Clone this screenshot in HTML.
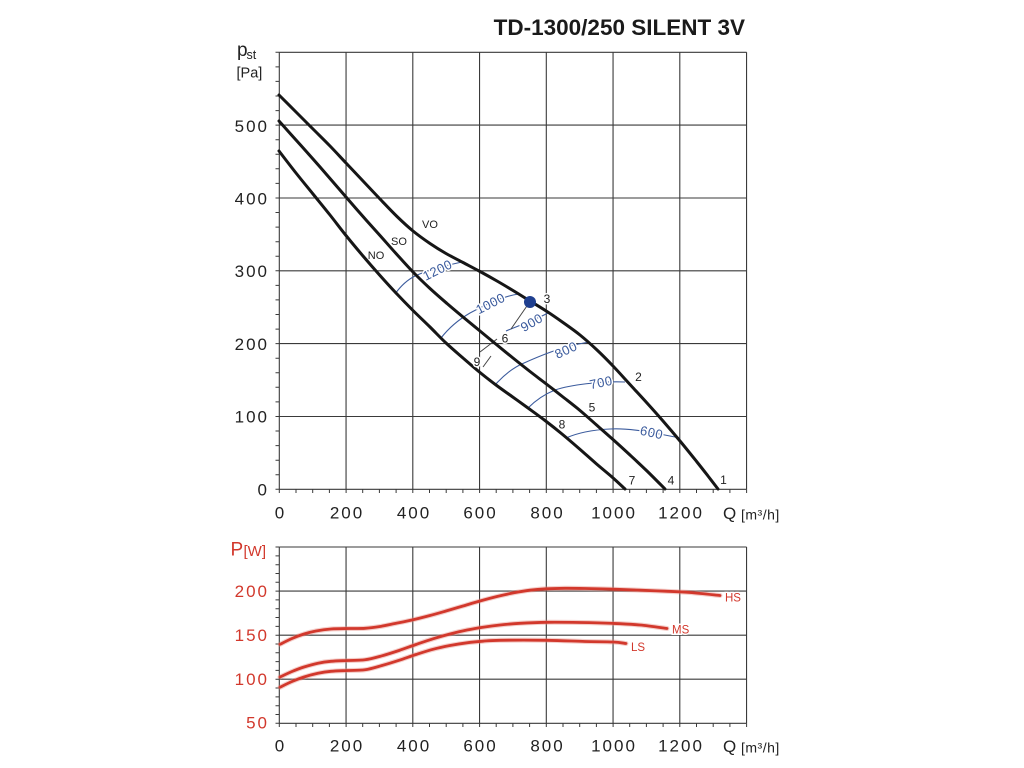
<!DOCTYPE html>
<html><head><meta charset="utf-8"><style>
html,body{margin:0;padding:0;background:#fff;}
svg{display:block;}
text{font-family:"Liberation Sans",Arial,sans-serif;}
.num{font-size:17px;fill:#222;letter-spacing:2px;}
.rnum{font-size:17px;fill:#d2382c;letter-spacing:2px;}
.blab{font-size:13px;fill:#3b5b9d;letter-spacing:0.5px;stroke:#fff;stroke-width:3px;paint-order:stroke;stroke-linejoin:round;}
.klab{font-size:12px;fill:#222;stroke:#fff;stroke-width:3px;paint-order:stroke;}
.clab{font-size:11px;fill:#222;}
.rlab{font-size:11.5px;fill:#d2382c;stroke:#fff;stroke-width:3px;paint-order:stroke;}
</style></head><body>
<svg id="chart" width="1024" height="768" viewBox="0 0 1024 768" xmlns="http://www.w3.org/2000/svg">
<rect width="1024" height="768" fill="#fff"/>
<text x="745" y="35" text-anchor="end" style="font-size:22.5px;font-weight:bold;fill:#1a1a1a">TD-1300/250 SILENT 3V</text>

<!-- TOP CHART GRID -->
<g stroke="#3a3a3a" stroke-width="1.1" fill="none">
<path d="M279.3 52.3H746.6M279.3 125.1H746.6M279.3 198H746.6M279.3 270.8H746.6M279.3 343.6H746.6M279.3 416.5H746.6M279.3 489.3H746.6"/>
<path d="M279.3 52.3V489.3M346.05 52.3V489.3M412.8 52.3V489.3M479.55 52.3V489.3M546.3 52.3V489.3M613.05 52.3V489.3M679.8 52.3V489.3M746.55 52.3V489.3"/>
</g>
<g stroke="#3a3a3a" stroke-width="1">
<path d="M275.5 489.3H279.3M275.5 474.7H279.3M275.5 460.2H279.3M275.5 445.6H279.3M275.5 431H279.3M275.5 416.5H279.3M275.5 401.9H279.3M275.5 387.3H279.3M275.5 372.8H279.3M275.5 358.2H279.3M275.5 343.6H279.3M275.5 329.1H279.3M275.5 314.5H279.3M275.5 299.9H279.3M275.5 285.4H279.3M275.5 270.8H279.3M275.5 256.2H279.3M275.5 241.7H279.3M275.5 227.1H279.3M275.5 212.5H279.3M275.5 198H279.3M275.5 183.4H279.3M275.5 168.8H279.3M275.5 154.3H279.3M275.5 139.7H279.3M275.5 125.1H279.3M275.5 110.6H279.3M275.5 96H279.3M275.5 81.4H279.3M275.5 66.9H279.3M275.5 52.3H279.3"/>
<path d="M279.3 489.3V493M296 489.3V493M312.7 489.3V493M329.4 489.3V493M346.1 489.3V493M362.7 489.3V493M379.4 489.3V493M396.1 489.3V493M412.8 489.3V493M429.5 489.3V493M446.2 489.3V493M462.9 489.3V493M479.6 489.3V493M496.2 489.3V493M512.9 489.3V493M529.6 489.3V493M546.3 489.3V493M563 489.3V493M579.7 489.3V493M596.4 489.3V493M613.1 489.3V493M629.7 489.3V493M646.4 489.3V493M663.1 489.3V493M679.8 489.3V493M696.5 489.3V493M713.2 489.3V493M729.9 489.3V493M746.6 489.3V493"/>
</g>

<g class="num" text-anchor="end">
<text x="269" y="132">500</text>
<text x="269" y="204.5">400</text>
<text x="269" y="277">300</text>
<text x="269" y="350">200</text>
<text x="269" y="422.5">100</text>
<text x="269" y="495.5">0</text>
</g>
<g class="num" text-anchor="middle">
<text x="280.5" y="518.5">0</text>
<text x="347" y="518.5">200</text>
<text x="414" y="518.5">400</text>
<text x="480.5" y="518.5">600</text>
<text x="547.5" y="518.5">800</text>
<text x="614" y="518.5">1000</text>
<text x="681" y="518.5">1200</text>
</g>
<text x="723" y="519" style="font-size:17px;fill:#222">Q</text>
<text x="741" y="519.5" style="font-size:14px;fill:#222;letter-spacing:0.5px">[m³/h]</text>
<text x="237" y="56" style="font-size:19px;fill:#222">p</text>
<text x="246.5" y="59" style="font-size:12.5px;fill:#222">st</text>
<text x="236.5" y="77.5" style="font-size:14.5px;fill:#222">[Pa]</text>

<!-- blue rpm arcs -->
<g stroke="#3b5b9d" stroke-width="1.1" fill="none">
<path d="M395 294 C400 287 407 280 415 276 C428 270 448 265 462 262"/>
<path d="M441 338 C448 329 458 320 470 313 C485 305 503 296 519 294"/>
<path d="M506 331 C515 327 535 320 548 313"/>
<path d="M495 385 C503 376 512 368 524 363 C540 356 560 347 589 342"/>
<path d="M528 408 C536 400 545 394 555 390 C570 385 600 381 625 382"/>
<path d="M566 438 C575 434 590 430 610 429 C630 428 650 432 680 438"/>
</g>
<g stroke="#444" stroke-width="1" fill="none">
<path d="M529 303 L511 329M497 339 L480 352M491 356 L483 367"/>
</g>
<g class="blab" text-anchor="middle">
<text transform="translate(437.5 270) rotate(-26)" y="4.5">1200</text>
<text transform="translate(490.5 303.5) rotate(-27)" y="4.5">1000</text>
<text transform="translate(531.7 322.5) rotate(-30)" y="4.5">900</text>
<text transform="translate(566 350) rotate(-25)" y="4.5">800</text>
<text transform="translate(601 382.5) rotate(-12)" y="4.5">700</text>
<text transform="translate(651.7 432.5) rotate(12)" y="4.5">600</text>
</g>

<!-- black fan curves -->
<g stroke="#161616" stroke-width="3" fill="none" stroke-linejoin="round" stroke-linecap="round">
<polyline class="sm" points="279,95 296,112 313,129 330,146 346,163 363,181 380,199 397,216.5 413,231 430,243.5 446,253.5 463,262.5 480,271.5 497,281 513,290.5 530,301 547,311.5 563,322.5 580,335 597,350 613,366 630,384.5 647,403 663,421 680,441 697,462 708,476 718,489"/>
<polyline class="sm" points="279,121 296,140 313,159 330,178.5 346,197 363,216.5 380,235.5 396,253.5 413,272 430,288.5 447,303.5 463,317 480,331 497,345 513,358 530,371.5 547,384.5 563,397 580,410.5 596,424.5 613,439.5 630,455 647,471 665,489"/>
<polyline class="sm" points="279,151 296,173 313,194 330,215 346,235.5 363,256 380,275.5 396,293 413,310.5 430,327 446,343 463,358 480,372.5 496,385 512,396.5 528,408 545,420.5 562,434 579,448.5 596,463.5 612,477 625,489"/>
</g>
<circle cx="530" cy="302" r="6" fill="#1f3f8f"/>

<g class="klab" text-anchor="middle">
<text x="547" y="303">3</text>
<text x="638.5" y="381">2</text>
<text x="592" y="411.5">5</text>
<text x="562" y="428.5">8</text>
<text x="505" y="342.5">6</text>
<text x="477" y="366">9</text>
<text x="723.5" y="484">1</text>
<text x="671" y="484.5">4</text>
<text x="632" y="484.5">7</text>
</g>
<g class="clab" text-anchor="middle">
<text x="430" y="228">VO</text>
<text x="399" y="245">SO</text>
<text x="376" y="259">NO</text>
</g>

<!-- BOTTOM CHART GRID -->
<g stroke="#3a3a3a" stroke-width="1.1" fill="none">
<path d="M279.3 547H746.6M279.3 591.1H746.6M279.3 635.2H746.6M279.3 679.2H746.6M279.3 723.3H746.6"/>
<path d="M279.3 547V723.3M346.05 547V723.3M412.8 547V723.3M479.55 547V723.3M546.3 547V723.3M613.05 547V723.3M679.8 547V723.3M746.55 547V723.3"/>
</g>
<g stroke="#3a3a3a" stroke-width="1">
<path d="M275.5 723.3H279.3M275.5 714.5H279.3M275.5 705.7H279.3M275.5 696.9H279.3M275.5 688H279.3M275.5 679.2H279.3M275.5 670.4H279.3M275.5 661.6H279.3M275.5 652.8H279.3M275.5 644H279.3M275.5 635.2H279.3M275.5 626.4H279.3M275.5 617.5H279.3M275.5 608.7H279.3M275.5 599.9H279.3M275.5 591.1H279.3M275.5 582.3H279.3M275.5 573.5H279.3M275.5 564.7H279.3M275.5 555.9H279.3M275.5 547H279.3"/>
<path d="M279.3 723.3V727M296 723.3V727M312.7 723.3V727M329.4 723.3V727M346.1 723.3V727M362.7 723.3V727M379.4 723.3V727M396.1 723.3V727M412.8 723.3V727M429.5 723.3V727M446.2 723.3V727M462.9 723.3V727M479.6 723.3V727M496.2 723.3V727M512.9 723.3V727M529.6 723.3V727M546.3 723.3V727M563 723.3V727M579.7 723.3V727M596.4 723.3V727M613.1 723.3V727M629.7 723.3V727M646.4 723.3V727M663.1 723.3V727M679.8 723.3V727M696.5 723.3V727M713.2 723.3V727M729.9 723.3V727M746.6 723.3V727"/>
</g>
<g class="rnum" text-anchor="end">
<text x="269" y="597">200</text>
<text x="269" y="641">150</text>
<text x="269" y="685">100</text>
<text x="269" y="728.5">50</text>
</g>
<g class="num" text-anchor="middle">
<text x="280.5" y="751.5">0</text>
<text x="347" y="751.5">200</text>
<text x="414" y="751.5">400</text>
<text x="480.5" y="751.5">600</text>
<text x="547.5" y="751.5">800</text>
<text x="614" y="751.5">1000</text>
<text x="681" y="751.5">1200</text>
</g>
<text x="723" y="752" style="font-size:17px;fill:#222">Q</text>
<text x="741" y="752.5" style="font-size:14px;fill:#222;letter-spacing:0.5px">[m³/h]</text>
<text x="230.5" y="555.5" style="font-size:19px;fill:#d2382c">P</text>
<text x="243.5" y="556" style="font-size:15px;fill:#d2382c">[W]</text>

<!-- red power curves -->
<g fill="none" stroke-linejoin="round" stroke-linecap="round">
<g stroke="#e48a80" stroke-width="5" opacity="0.4">
<polyline class="sm" points="280,644.3 292,638.5 304,634 316,631 331,629 350,628.5 365,628.3 380,626.5 395,623.5 412,620 430,615.5 446,611 463,606 480,601 497,596.5 514,592.8 530,590.2 546,588.8 565,588.3 585,588.5 613,589.2 640,590.2 665,591.2 690,592.5 720,595.5"/>
<polyline class="sm" points="280,677 292,671.5 304,667 318,663.2 331,661.3 348,660.5 365,659.8 382,655.8 399,650.5 416,644.5 433,638.8 450,634 467,630 483,627.2 500,625 520,623.3 547,622.3 580,622.5 613,623.4 640,625 667,628.5"/>
<polyline class="sm" points="280,687.2 292,681.5 304,677 318,673.3 331,671.3 348,670.5 365,669.8 382,665.5 399,660.3 416,654.5 433,649.3 450,645.5 467,642.8 483,641.2 500,640.3 547,640.3 585,641.5 613,642 626,643.5"/>
</g>
<g stroke="#d2382c" stroke-width="2.8">
<polyline class="sm" points="280,644.3 292,638.5 304,634 316,631 331,629 350,628.5 365,628.3 380,626.5 395,623.5 412,620 430,615.5 446,611 463,606 480,601 497,596.5 514,592.8 530,590.2 546,588.8 565,588.3 585,588.5 613,589.2 640,590.2 665,591.2 690,592.5 720,595.5"/>
<polyline class="sm" points="280,677 292,671.5 304,667 318,663.2 331,661.3 348,660.5 365,659.8 382,655.8 399,650.5 416,644.5 433,638.8 450,634 467,630 483,627.2 500,625 520,623.3 547,622.3 580,622.5 613,623.4 640,625 667,628.5"/>
<polyline class="sm" points="280,687.2 292,681.5 304,677 318,673.3 331,671.3 348,670.5 365,669.8 382,665.5 399,660.3 416,654.5 433,649.3 450,645.5 467,642.8 483,641.2 500,640.3 547,640.3 585,641.5 613,642 626,643.5"/>
</g>
</g>
<g class="rlab">
<text x="725" y="601.5">HS</text>
<text x="672" y="633.5">MS</text>
<text x="631" y="651">LS</text>
</g>
</svg>
<script>
(function(){
var pls=document.querySelectorAll('polyline.sm');
for(var k=0;k<pls.length;k++){
 var pl=pls[k];
 var nums=pl.getAttribute('points').trim().split(/[\s,]+/).map(Number);
 var p=[];for(var i=0;i+1<nums.length;i+=2)p.push([nums[i],nums[i+1]]);
 if(p.length<2)continue;
 var d='M'+p[0][0]+' '+p[0][1];
 for(var j=0;j<p.length-1;j++){
  var p0=p[j-1]||p[j],p1=p[j],p2=p[j+1],p3=p[j+2]||p[j+1];
  var c1x=p1[0]+(p2[0]-p0[0])/6,c1y=p1[1]+(p2[1]-p0[1])/6;
  var c2x=p2[0]-(p3[0]-p1[0])/6,c2y=p2[1]-(p3[1]-p1[1])/6;
  d+=' C'+c1x.toFixed(2)+' '+c1y.toFixed(2)+' '+c2x.toFixed(2)+' '+c2y.toFixed(2)+' '+p2[0]+' '+p2[1];
 }
 var path=document.createElementNS('http://www.w3.org/2000/svg','path');
 path.setAttribute('d',d);
 pl.parentNode.replaceChild(path,pl);
}
})();
</script>
</body></html>
